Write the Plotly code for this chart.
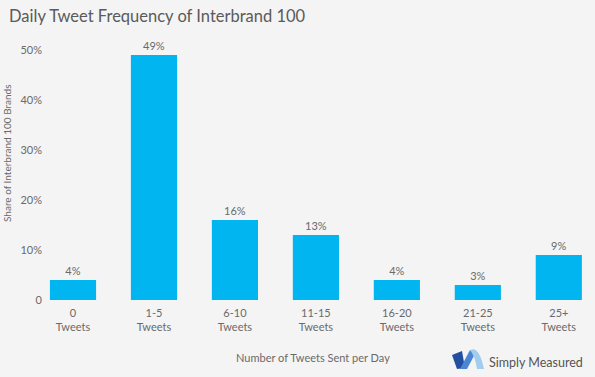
import plotly.graph_objects as go

categories = ["0<br>Tweets", "1-5<br>Tweets", "6-10<br>Tweets", "11-15<br>Tweets",
              "16-20<br>Tweets", "21-25<br>Tweets", "25+<br>Tweets"]
values = [4, 49, 16, 13, 4, 3, 9]
labels = ["4%", "49%", "16%", "13%", "4%", "3%", "9%"]
ytick_vals = [0, 10, 20, 30, 40, 50]
ytick_text = ["0", "10%", "20%", "30%", "40%", "50%"]

W, H = 595, 377
ML, MR, MT, MB = 46, 0, 40, 77
PW, PH = W - ML - MR, H - MT - MB
FONT = "Lato, 'Open Sans', sans-serif"
GRAY = "#6a6a6a"
BG = "#f4f4f4"


def px(x):
    return (x - ML) / PW


def py(y):
    return (H - MB - y) / PH


def path(points):
    s = "M " + " L ".join(f"{px(a):.5f},{py(b):.5f}" for a, b in points) + " Z"
    return s


fig = go.Figure()
fig.add_trace(go.Bar(
    x=list(range(len(categories))), y=values, width=0.57,
    marker=dict(color="#00b5f0", line=dict(width=0)),
    text=labels, textposition="outside",
    textfont=dict(family=FONT, size=11, color=GRAY),
    cliponaxis=False, hoverinfo="skip",
))

shapes = [
    dict(type="path", xref="paper", yref="paper",
         path=path([(452, 355), (462, 351), (465, 368), (457, 369)]),
         fillcolor="#234fa0", line=dict(width=0)),
    dict(type="path", xref="paper", yref="paper",
         path=path([(460, 369), (470, 350), (476, 352), (467, 369)]),
         fillcolor="#4a86d4", line=dict(width=0)),
    dict(type="path", xref="paper", yref="paper",
         path=(f"M {px(470):.5f},{py(350):.5f} Q {px(479):.5f},{py(345):.5f} {px(484):.5f},{py(369):.5f} "
               f"L {px(477):.5f},{py(369):.5f} Q {px(475):.5f},{py(356):.5f} {px(470):.5f},{py(350):.5f} Z"),
         fillcolor="#a3cdef", line=dict(width=0)),
]

annotations = [
    dict(text="Daily Tweet Frequency of Interbrand 100", xref="paper", yref="paper",
         x=px(7), y=py(16), xanchor="left", yanchor="middle", showarrow=False,
         font=dict(family=FONT, size=16.5, color="#5a5a5a")),
    dict(text="Share of Interbrand 100 Brands", xref="paper", yref="paper",
         x=px(7), y=py(153), xanchor="center", yanchor="middle", showarrow=False,
         textangle=-90, font=dict(family=FONT, size=10, color=GRAY)),
    dict(text="Number of Tweets Sent per Day", xref="paper", yref="paper",
         x=px(313), y=py(357), xanchor="center", yanchor="middle", showarrow=False,
         font=dict(family=FONT, size=11, color=GRAY)),
    dict(text="Simply Measured", xref="paper", yref="paper",
         x=px(487), y=py(362), xanchor="left", yanchor="middle", showarrow=False,
         font=dict(family=FONT, size=12.5, color="#555555")),
]

fig.update_layout(
    width=W, height=H,
    margin=dict(l=ML, r=MR, t=MT, b=MB, pad=0),
    paper_bgcolor=BG, plot_bgcolor=BG,
    showlegend=False,
    shapes=shapes, annotations=annotations,
    xaxis=dict(range=[-0.3335, 6.447], tickvals=list(range(len(categories))),
               ticktext=categories, showgrid=False, zeroline=False, showline=False,
               ticks="", tickfont=dict(family=FONT, size=11, color=GRAY),
               ticklabelstandoff=5, fixedrange=True),
    yaxis=dict(range=[0, 52], tickvals=ytick_vals, ticktext=ytick_text,
               showgrid=False, zeroline=False, showline=False, ticks="",
               tickfont=dict(family=FONT, size=11, color=GRAY),
               ticklabelstandoff=3, fixedrange=True),
)

fig.write_html("out.html", config={"displayModeBar": False},
               post_script="document.body.style.margin='0';document.body.style.background='#f4f4f4';")
